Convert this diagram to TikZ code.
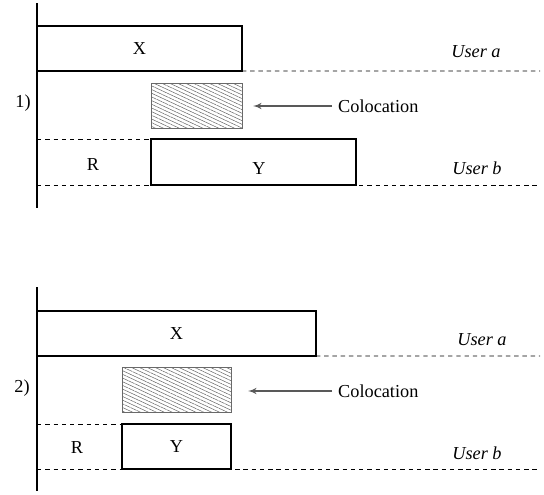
\documentclass[tikz,border=0pt]{standalone}
\usepackage{fontspec}
\setmainfont{Liberation Serif}
\usetikzlibrary{arrows, positioning, patterns.meta}
\definecolor{hatchGray}{RGB}{105,105,105}
\tikzstyle{bar}= [draw=black, line width=1.1pt, inner sep=0pt, outer sep=0pt, anchor=north west]
\tikzstyle{overlap}= [draw=hatchGray, line width=0.5pt, inner sep=0pt, outer sep=0pt, anchor=north west,
    pattern={Lines[angle=-25, distance=1.9pt, line width=0.3pt]}, pattern color=hatchGray]
\tikzstyle{track}= [line width=0.5pt, dash pattern=on 2.5pt off 2.2pt]
\tikzstyle{axis}= [line width=0.6pt]
\tikzstyle{pointer}= [->, draw=black!65, line width=0.7pt]

\begin{document}
\begin{tikzpicture}[x=0.02cm, y=-0.02cm, >=latex', font=\fontsize{10.4}{12.5}\selectfont]
    \useasboundingbox (0,0) rectangle (544,494);

    % case 1)
    \coordinate (top1) at (37,3);
    \coordinate (bot1) at (37,208);
    \draw[axis] (top1) -- (bot1);
    \node (num1) at (23,103) {1)};

    \node [bar, minimum width=4.1cm, minimum height=0.9cm] (X1) at (37,26) {X};
    \node [overlap, minimum width=1.82cm, minimum height=0.9cm] (C1) at (151,83) {};
    \node [bar, minimum width=4.1cm, minimum height=0.92cm] (Y1) at (151,139) {};
    \node (Ylab1) at (259,169) {Y};
    \node (R1) at (93,165) {R};

    % user lines
    \coordinate (endA1) at (540,71);
    \draw[track] (X1.south east) -- (endA1);
    \coordinate (startB1) at (37,139);
    \draw[track] (startB1) -- (Y1.north west);
    \coordinate (startC1) at (37,185);
    \coordinate (endC1) at (540,185);
    \draw[track] (startC1) -- (endC1);
    \node (ua1) at (476,52) {\textit{User a}};
    \node (ub1) at (477,168) {\textit{User b}};

    % colocation arrow
    \node [anchor=west] (col1) at (332,106) {Colocation};
    \coordinate (tip1) at (253,106);
    \draw[pointer] (col1.west) -- (tip1);

    % case 2)
    \coordinate (top2) at (37,287);
    \coordinate (bot2) at (37,491);
    \draw[axis] (top2) -- (bot2);
    \node (num2) at (22,388) {2)};

    \node [bar, minimum width=5.58cm, minimum height=0.9cm] (X2) at (37,311) {X};
    \node [overlap, minimum width=2.18cm, minimum height=0.9cm] (C2) at (122,367) {};
    \node [bar, minimum width=2.18cm, minimum height=0.9cm] (Y2) at (122,424) {Y};
    \node (R2) at (77,448) {R};

    % user lines
    \coordinate (endA2) at (540,356);
    \draw[track] (X2.south east) -- (endA2);
    \coordinate (startB2) at (37,424);
    \draw[track] (startB2) -- (Y2.north west);
    \coordinate (startC2) at (37,469);
    \coordinate (endC2) at (540,469);
    \draw[track] (startC2) -- (endC2);
    \node (ua2) at (482,340) {\textit{User a}};
    \node (ub2) at (477,453) {\textit{User b}};

    % colocation arrow
    \node [anchor=west] (col2) at (332,391) {Colocation};
    \coordinate (tip2) at (248,391);
    \draw[pointer] (col2.west) -- (tip2);

\end{tikzpicture}
\end{document}
